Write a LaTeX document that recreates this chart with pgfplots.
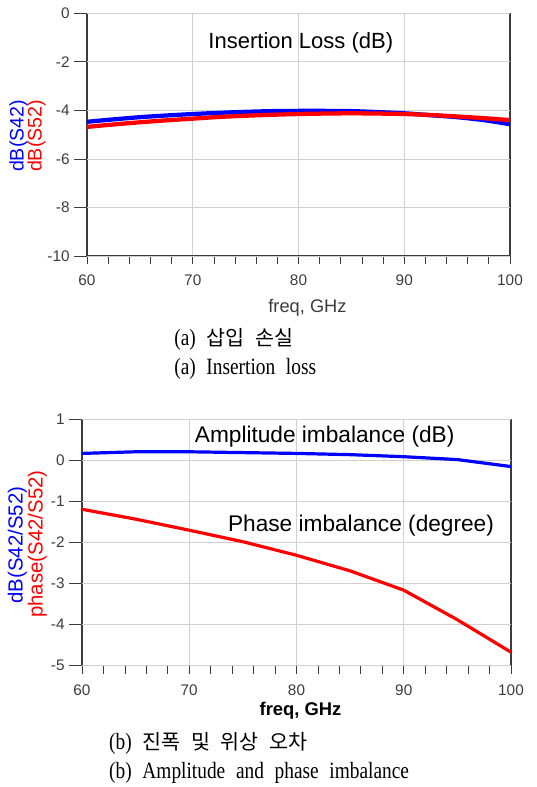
\documentclass[border=0pt]{standalone}
\usepackage{pgfplots}
\pgfplotsset{compat=1.18}
\usepackage{fontspec}
\setmainfont{Liberation Sans}
\newfontfamily\kr{Noto Sans CJK KR}
\newfontfamily\capfont[FakeStretch=0.83]{Liberation Serif}
\definecolor{adsblue}{RGB}{0,0,255}
\definecolor{adsred}{RGB}{255,0,0}
\definecolor{gridgray}{RGB}{208,208,208}
\definecolor{axgray}{RGB}{60,60,60}
\pgfplotsset{
  adsaxis/.style={
    scale only axis,
    anchor=south west,
    axis line style={axgray, line width=0.8pt},
    tick style={axgray, line width=0.6pt},
    tick align=outside,
    major tick length=6pt,
    minor tick length=6pt,
    grid=major,
    major grid style={gridgray, line width=0.6pt},
    xmin=60, xmax=100,
    xtick={60,70,80,90,100},
    minor x tick num=4,
    ytick=\empty,
    extra y tick style={major tick length=9.5pt, grid=major},
    /pgf/number format/assume math mode=true,
    tick label style={font=\fontsize{11.5}{13}\selectfont, text=axgray},
    xticklabel style={yshift=-4.5pt},
    xtick pos=bottom, ytick pos=left,
    clip=true,
  }
}
\begin{document}
\begin{tikzpicture}
\path[use as bounding box] (0pt,0pt) rectangle (402pt,-590.25pt);
% ---------------- top chart -----------------
\begin{axis}[adsaxis,
  at={(65.25pt,-192pt)},
  width=317.25pt, height=182pt,
  ymin=-10, ymax=0,
  extra y ticks={-10,-8,-6,-4,-2,0},
  minor ytick={-9,-7,-5,-3,-1},
]
\addplot[adsblue, line width=3.2pt, smooth] coordinates {
(60,-4.47) (62.5,-4.37) (65,-4.28) (67.5,-4.21) (70,-4.15) (72.5,-4.10)
(75,-4.06) (77.5,-4.03) (80,-4.02) (82.5,-4.02) (85,-4.03) (87.5,-4.07)
(90,-4.12) (92.5,-4.20) (95,-4.28) (97.5,-4.40) (100,-4.57)};
\addplot[adsred, line width=3.2pt, smooth] coordinates {
(60,-4.68) (62.5,-4.58) (65,-4.49) (67.5,-4.41) (70,-4.34) (72.5,-4.27)
(75,-4.22) (77.5,-4.18) (80,-4.15) (82.5,-4.13) (85,-4.12) (87.5,-4.13)
(90,-4.15) (92.5,-4.19) (95,-4.25) (97.5,-4.32) (100,-4.40)};
\end{axis}
\node[anchor=base, font=\fontsize{16.5}{18}\selectfont] at (225.6pt,-36.2pt) {Insertion Loss (dB)};
\node[rotate=90, text=adsblue, font=\fontsize{14.7}{16}\selectfont] at (13.9pt,-102pt) {dB(S42)};
\node[rotate=90, text=adsred, font=\fontsize{14.7}{16}\selectfont] at (27.4pt,-102pt) {dB(S52)};
\node[anchor=base, font=\fontsize{13.7}{15}\selectfont, text=axgray] at (230.6pt,-234.5pt) {freq, GHz};
\node[anchor=west, font=\fontsize{17.5}{19}\selectfont] at (127.2pt,-254.5pt) {\capfont (a)\hspace{8pt}{\kr\fontsize{15.5}{17}\selectfont 삽입\hspace{8pt}손실}};
\node[anchor=west, font=\fontsize{17.5}{19}\selectfont] at (127.2pt,-276.5pt) {\capfont (a)\hspace{8pt}Insertion\hspace{8pt}loss};
% ---------------- bottom chart -----------------
\begin{axis}[adsaxis,
  at={(61.5pt,-499.3pt)},
  width=321.75pt, height=184.8pt,
  ymin=-5, ymax=1,
  extra y ticks={-5,-4,-3,-2,-1,0,1},
  minor ytick={-4.5,-3.5,-2.5,-1.5,-0.5,0.5},
]
\addplot[adsblue, line width=2.4pt] coordinates {
(60,0.17) (65,0.21) (70,0.21) (75,0.19) (80,0.17) (85,0.14) (90,0.09) (95,0.02) (100,-0.15)};
\addplot[adsred, line width=2.4pt] coordinates {
(60,-1.19) (65,-1.43) (70,-1.70) (75,-1.98) (80,-2.31) (85,-2.69) (90,-3.16) (95,-3.88) (100,-4.67)};
\end{axis}
\node[anchor=base, font=\fontsize{17}{19}\selectfont] at (243.5pt,-331.7pt) {Amplitude imbalance (dB)};
\node[anchor=base, font=\fontsize{17}{19}\selectfont] at (270.75pt,-398.25pt) {Phase imbalance (degree)};
\node[rotate=90, text=adsblue, font=\fontsize{15.3}{17}\selectfont] at (13.1pt,-408.75pt) {dB(S42/S52)};
\node[rotate=90, text=adsred, font=\fontsize{15.3}{17}\selectfont] at (28.1pt,-408pt) {phase(S42/S52)};
\node[anchor=base, font=\bfseries\fontsize{13.8}{15}\selectfont] at (225.4pt,-536.25pt) {freq, GHz};
\node[anchor=west, font=\fontsize{17.5}{19}\selectfont] at (78.4pt,-557.5pt) {\capfont (b)\hspace{8pt}{\kr\fontsize{15.5}{17}\selectfont 진폭\hspace{8pt}및\hspace{8pt}위상\hspace{8pt}오차}};
\node[anchor=west, font=\fontsize{17.5}{19}\selectfont] at (78.4pt,-580pt) {\capfont (b)\hspace{8pt}Amplitude\hspace{8pt}and\hspace{8pt}phase\hspace{8pt}imbalance};
\end{tikzpicture}
\end{document}
